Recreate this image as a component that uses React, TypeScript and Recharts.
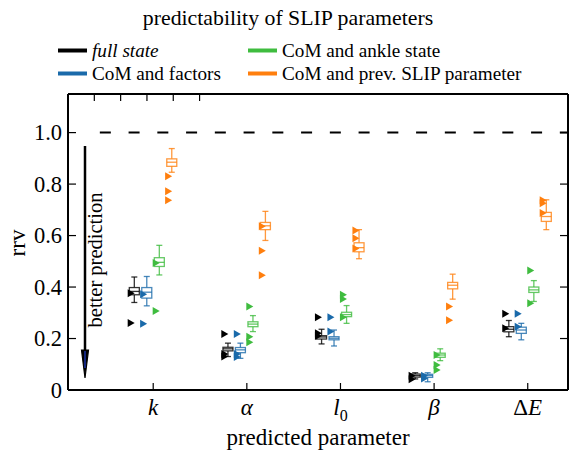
import React from 'react'
import { ComposedChart, Bar, Scatter, XAxis, YAxis, ReferenceLine } from 'recharts'

// predicted parameters (x positions 1..5)
const paramLabels = ['k', 'α', 'l0', 'β', 'ΔE']
const paramPos = [1, 2, 3, 4, 5]

const seriesNames = ['full state', 'CoM and factors', 'CoM and ankle state', 'CoM and prev. SLIP parameter']
const seriesColors = ['#000000', '#1a6aaa', '#3fbc3f', '#ff7f0e']

// box stats per parameter: [whisker low, q1, median, q3, whisker high]
const fullStats = [
  [0.340, 0.370, 0.383, 0.398, 0.439],
  [0.130, 0.152, 0.160, 0.166, 0.182],
  [0.179, 0.198, 0.206, 0.211, 0.236],
  [0.043, 0.050, 0.056, 0.062, 0.067],
  [0.207, 0.226, 0.236, 0.246, 0.270],
]
const factorStats = [
  [0.327, 0.357, 0.380, 0.398, 0.441],
  [0.123, 0.145, 0.156, 0.165, 0.182],
  [0.171, 0.195, 0.201, 0.207, 0.233],
  [0.032, 0.049, 0.056, 0.061, 0.067],
  [0.195, 0.220, 0.233, 0.244, 0.259],
]
const ankleStats = [
  [0.447, 0.480, 0.496, 0.514, 0.562],
  [0.227, 0.246, 0.256, 0.265, 0.289],
  [0.259, 0.285, 0.293, 0.302, 0.328],
  [0.114, 0.127, 0.136, 0.143, 0.160],
  [0.344, 0.379, 0.389, 0.400, 0.425],
]
const prevStats = [
  [0.846, 0.869, 0.885, 0.898, 0.938],
  [0.581, 0.623, 0.638, 0.651, 0.694],
  [0.510, 0.537, 0.553, 0.572, 0.623],
  [0.353, 0.393, 0.407, 0.418, 0.450],
  [0.623, 0.655, 0.674, 0.690, 0.739],
]

// outlier markers per parameter
const fullOut = [[0.376, 0.26], [0.218, 0.140, 0.130], [0.283, 0.22, 0.21], [0.055, 0.042], [0.296, 0.240]]
const factorOut = [[0.372, 0.257], [0.218, 0.140, 0.128], [0.283, 0.227], [0.055, 0.045], [0.296, 0.246]]
const ankleOut = [[0.493, 0.307], [0.324, 0.207, 0.186], [0.370, 0.354, 0.283], [0.136, 0.097, 0.078], [0.464, 0.337]]
const prevOut = [[0.830, 0.772, 0.737], [0.636, 0.541, 0.446], [0.620, 0.590, 0.550], [0.324, 0.271], [0.737, 0.726, 0.688]]

const yTicks = [0, 0.2, 0.4, 0.6, 0.8, 1.0]

const allStats = [fullStats, factorStats, ankleStats, prevStats]
const allOut = [fullOut, factorOut, ankleOut, prevOut]
const offsets = [-0.2, -0.067, 0.067, 0.2]
const markerShift = -0.035

const boxRows = allStats.flatMap((stats, si) =>
  stats.map((s, gi) => ({
    x: paramPos[gi] + offsets[si],
    lo: s[0], q1: s[1], med: s[2], q3: s[3], hi: s[4],
    color: seriesColors[si],
  }))
)
const outRows = allOut.map((outs, si) =>
  outs.flatMap((vals, gi) => vals.map((v) => ({ x: paramPos[gi] + offsets[si] + markerShift, y: v })))
)

const FONT = 'Liberation Serif, Times New Roman, Times, Tinos, DejaVu Serif, serif'

const BoxShape = (props: any) => {
  const { x, y, width, height, payload } = props
  const { lo, q1, med, q3, hi, color } = payload
  const cx = x + width / 2
  const py = (v: number) => y + (height * (hi - v)) / (hi - lo)
  const bw = 10
  const cap = 6
  return (
    <g stroke={color} strokeOpacity={0.8} strokeWidth={1.3}>
      <line x1={cx} x2={cx} y1={py(hi)} y2={py(q3)} />
      <line x1={cx} x2={cx} y1={py(q1)} y2={py(lo)} />
      <line x1={cx - cap / 2} x2={cx + cap / 2} y1={py(hi)} y2={py(hi)} />
      <line x1={cx - cap / 2} x2={cx + cap / 2} y1={py(lo)} y2={py(lo)} />
      <rect x={cx - bw / 2} y={py(q3)} width={bw} height={py(q1) - py(q3)} fill="#fff" />
      <line x1={cx - bw / 2} x2={cx + bw / 2} y1={py(med)} y2={py(med)} />
    </g>
  )
}

const Tri = (props: any) => {
  const { cx, cy, fill } = props
  return <polygon points={`${cx - 3.5},${cy - 4} ${cx + 3.5},${cy} ${cx - 3.5},${cy + 4}`} fill={fill} />
}

const XTick = (props: any) => {
  const { x, y, payload } = props
  const lab = paramLabels[payload.value - 1]
  let content: React.ReactNode = <tspan fontStyle="italic">{lab}</tspan>
  if (lab === 'l0') content = (<><tspan fontStyle="italic">l</tspan><tspan fontSize={16} dy={6}>0</tspan></>)
  if (lab === 'ΔE') content = (<><tspan>Δ</tspan><tspan fontStyle="italic">E</tspan></>)
  return (
    <g>
      <line x1={x} x2={x} y1={y} y2={y - 7} stroke="#000" strokeWidth={1.2} />
      <text x={x} y={y + 25} textAnchor="middle" style={{ fontFamily: FONT }} fontSize={23} fill="#000">{content}</text>
    </g>
  )
}
const TopTick = (props: any) => {
  const { x, y } = props
  return <line x1={x} x2={x} y1={y} y2={y + 7} stroke="#000" strokeWidth={1.2} />
}
const YTick = (props: any) => {
  const { x, y, payload } = props
  const v = payload.value
  return (
    <g>
      <line x1={x} x2={x + 8} y1={y} y2={y} stroke="#000" strokeWidth={1.2} />
      <text x={x - 6} y={y + 7.5} textAnchor="end" style={{ fontFamily: FONT }} fontSize={22.5} fill="#000">{v === 0 ? '0' : v.toFixed(1)}</text>
    </g>
  )
}
const RightTick = (props: any) => {
  const { x, y } = props
  return <line x1={x} x2={x - 8} y1={y} y2={y} stroke="#000" strokeWidth={1.2} />
}

const axisLine = { stroke: '#000', strokeWidth: 2 }
const legendX = [58, 248, 58, 248]
const legendY = [50.5, 50.5, 73.5, 73.5]
// legend order: full, ankle, factors, prev
const legendOrder = [0, 2, 1, 3]

export default function App() {
  return (
    <div style={{ position: 'absolute', left: 0, top: 0, width: 580, height: 455, background: '#fff' }}>
      <ComposedChart width={580} height={455} data={boxRows} margin={{ top: 92, right: 10, bottom: 35, left: 8 }}>
        <XAxis dataKey="x" type="number" domain={[0.09, 5.43]} ticks={paramPos} allowDataOverflow
          tickSize={0} tickMargin={0} tick={<XTick />} axisLine={axisLine} tickLine={false} height={30} interval={0} />
        <XAxis xAxisId="top" orientation="top" type="number" domain={[0.09, 5.43]} ticks={paramPos} allowDataOverflow
          tickSize={0} tickMargin={0} tick={<TopTick />} axisLine={axisLine} tickLine={false} height={2} interval={0} />
        <YAxis type="number" domain={[0, 1.15]} ticks={yTicks} allowDataOverflow tickSize={0} tickMargin={0}
          tick={<YTick />} axisLine={axisLine} tickLine={false} width={60} interval={0} />
        <YAxis yAxisId="right" orientation="right" type="number" domain={[0, 1.15]} ticks={yTicks} allowDataOverflow
          tickSize={0} tickMargin={0} tick={<RightTick />} axisLine={axisLine} tickLine={false} width={2} interval={0} />
        <ReferenceLine segment={[{ x: 0.43, y: 1 }, { x: 5.43, y: 1 }]} stroke="#000" strokeWidth={2} strokeDasharray="11 17.75" ifOverflow="visible" />
        <Bar dataKey={(d: any) => [d.lo, d.hi]} barSize={10} shape={<BoxShape />} isAnimationActive={false} />
        {outRows.map((rows, si) => (
          <Scatter key={si} data={rows} dataKey="y" fill={seriesColors[si]} shape={<Tri />} isAnimationActive={false} />
        ))}
      </ComposedChart>
      <svg width={580} height={455} style={{ position: 'absolute', left: 0, top: 0, pointerEvents: 'none', fontFamily: FONT }} fill="#000">
        <text x={288} y={25} textAnchor="middle" fontSize={21.8}>predictability of SLIP parameters</text>
        {legendOrder.map((si, k) => (
          <g key={si}>
            <line x1={legendX[k]} x2={legendX[k] + 29} y1={legendY[k]} y2={legendY[k]} stroke={seriesColors[si]} strokeWidth={4} />
            <text x={legendX[k] + 34} y={legendY[k] + 6} fontSize={19.2} fontStyle={si === 0 ? 'italic' : 'normal'}>{seriesNames[si]}</text>
          </g>
        ))}
        <text transform="translate(25,243) rotate(-90)" textAnchor="middle" fontSize={23}>rrv</text>
        <text x={318} y={445} textAnchor="middle" fontSize={23}>predicted parameter</text>
        <text transform="translate(102,260) rotate(-90)" textAnchor="middle" fontSize={20.5}>better prediction</text>
        <line x1={85} x2={85} y1={146} y2={352} stroke="#000" strokeWidth={2.5} />
        <polygon points="81.5,350 88.5,350 85,378" fill="#000" stroke="#000" strokeWidth={1.2} />
        <line x1={85} x2={85} y1={351} y2={368} stroke="#1f3fd0" strokeWidth={1.2} />
      </svg>
    </div>
  )
}
